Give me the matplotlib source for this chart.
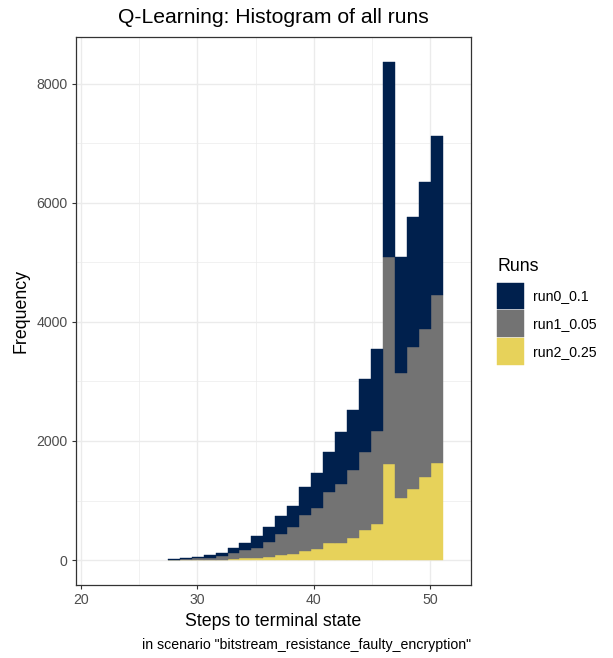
import numpy as np
import matplotlib
matplotlib.use("Agg")
import matplotlib.pyplot as plt
from matplotlib.ticker import MultipleLocator

plt.rcParams['font.family'] = ['Liberation Sans', 'DejaVu Sans']

# DATA - histogram counts per bin (stacked)
BIN_LEFT  = 27.46
BIN_WIDTH = 1.027
run_names = ["run0_0.1", "run1_0.05", "run2_0.25"]
run0 = [4, 17, 22, 39, 50, 78, 117, 195, 240, 295, 365, 462, 583, 679,
        875, 1014, 1225, 1371, 3273, 1961, 2186, 2469, 2670]
run1 = [7, 9, 25, 34, 59, 92, 134, 167, 260, 360, 445, 608, 694, 845,
        984, 1137, 1324, 1556, 3477, 2091, 2390, 2495, 2820]
run2 = [0, 2, 3, 5, 8, 25, 28, 39, 50, 80, 105, 150, 181, 295,
        295, 371, 498, 610, 1620, 1045, 1190, 1391, 1625]
colors = {"run0_0.1": "#00204D", "run1_0.05": "#737373", "run2_0.25": "#E7D25A"}

title   = "Q-Learning: Histogram of all runs"
xlabel  = "Steps to terminal state"
ylabel  = "Frequency"
caption = 'in scenario "bitstream_resistance_faulty_encryption"'
legend_title = "Runs"

W, H = 613, 658
fig = plt.figure(figsize=(W / 100, H / 100), dpi=100)
L, R, T, B = 75.7, 470.7, 36.7, 585.0
ax = fig.add_axes([L / W, 1 - B / H, (R - L) / W, (B - T) / H])

lefts = BIN_LEFT + BIN_WIDTH * np.arange(len(run0))
bottom = np.zeros(len(run0))
bars = {}
# stacked: run2 at the bottom, run0 on top
for name, vals in [("run2_0.25", run2), ("run1_0.05", run1), ("run0_0.1", run0)]:
    vals = np.array(vals, dtype=float)
    bars[name] = ax.bar(lefts, vals, width=BIN_WIDTH, bottom=bottom, align='edge',
                        color=colors[name], edgecolor=colors[name], linewidth=0.3,
                        zorder=3)
    bottom += vals

ymax = bottom.max()
ax.set_ylim(-0.05 * ymax, 1.05 * ymax)
ax.set_xlim(19.54, 53.5)

ax.xaxis.set_major_locator(MultipleLocator(10))
ax.xaxis.set_minor_locator(MultipleLocator(5))
ax.yaxis.set_major_locator(MultipleLocator(2000))
ax.yaxis.set_minor_locator(MultipleLocator(1000))

ax.grid(True, which='major', color='#EBEBEB', linewidth=1.0, zorder=0)
ax.grid(True, which='minor', color='#EBEBEB', linewidth=0.5, zorder=0)
ax.set_axisbelow(True)
for sp in ax.spines.values():
    sp.set_color('#333333')
    sp.set_linewidth(0.9)

ax.tick_params(which='major', length=3.2, width=0.8, color='#333333',
               labelsize=10.2, labelcolor='#4D4D4D', pad=2.6)
ax.tick_params(which='minor', length=0)

cx = (L + R) / 2 / W
fig.text(cx, 1 - 17.5 / H, title, ha='center', va='center', fontsize=15.2)
fig.text(cx, 1 - 626 / H, xlabel, ha='center', va='baseline', fontsize=12.8)
fig.text(21 / W, 1 - ((T + B) / 2) / H, ylabel, ha='center', va='center',
         rotation=90, fontsize=12.8)
fig.text(R / W, 1 - 649 / H, caption, ha='right', va='baseline', fontsize=10.2)

# legend
fig.text(497.3 / W, 1 - 266.7 / H, legend_title, ha='left', va='center', fontsize=12.8)
handles = [bars[n][0] for n in run_names]
leg = fig.legend(handles, run_names, loc='upper left',
                 bbox_to_anchor=(497.3 / W, 1 - 282.7 / H), frameon=False,
                 fontsize=10.2, handlelength=1.88, handleheight=2.51,
                 handletextpad=0.65, labelspacing=0.08, borderpad=0,
                 borderaxespad=0)

fig.savefig("out.png", dpi=100)
